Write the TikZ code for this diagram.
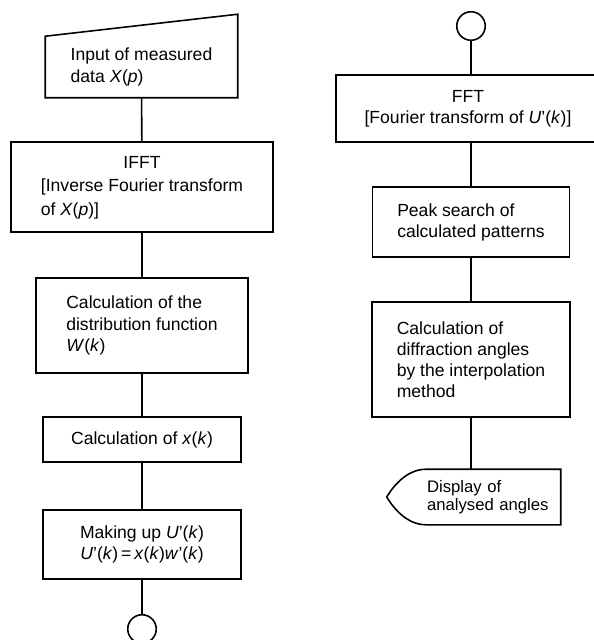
\documentclass[tikz,border=0pt]{standalone}
\usepackage{fontspec}
\setmainfont{Liberation Sans}
\usetikzlibrary{calc}

\begin{document}
\begin{tikzpicture}[
    x=0.02cm, y=-0.02cm,
    box/.style={draw, inner sep=0pt, align=left},
    plain/.style={inner sep=0pt, align=left},
    conn/.style={draw, circle, minimum size=0.57cm, inner sep=0pt},
    every node/.style={font=\fontsize{10}{12}\selectfont},
    line width=0.9pt
  ]
  \useasboundingbox (0,0) rectangle (593,640);

  % Left column
  \node[plain, minimum width=3.82cm, minimum height=1.2cm,
        font=\fontsize{10}{13}\selectfont] (input) at (141.5,67)
        {Input of measured\\data \textit{X}(\textit{p})};
  \draw (input.south west) -- (input.south east)
        -- ([yshift=0.44cm]input.north east) -- (input.north west) -- cycle;

  \node[box, minimum width=5.24cm, minimum height=1.8cm,
        font=\fontsize{10}{13.5}\selectfont] (ifft) at (142,187)
        {\begin{tabular}{@{}l@{}}\multicolumn{1}{@{}c@{}}{IFFT}\\
         {[}Inverse Fourier transform\\ of \textit{X}(\textit{p})]\end{tabular}};
  \node[box, minimum width=4.24cm, minimum height=1.9cm] (distr) at (142,325.5)
        {Calculation of the\\distribution function\\\textit{W}(\textit{k})};
  \node[box, minimum width=3.96cm, minimum height=0.9cm] (xk) at (142,439.5)
        {Calculation of \textit{x}(\textit{k})};
  \node[box, align=center, minimum width=3.96cm, minimum height=1.38cm] (makeu) at (142,544.5)
        {Making up \textit{U}'(\textit{k})\\
         \textit{U}'(\textit{k})\,=\,\textit{x}(\textit{k})\textit{w}'(\textit{k})};
  \node[conn] (outc) at (142,629) {};

  \draw (input) -- (ifft);
  \draw (ifft) -- (distr);
  \draw (distr) -- (xk);
  \draw (xk) -- (makeu);
  \draw (makeu) -- (outc);

  % Right column
  \node[conn] (inc) at (471,26) {};
  \node[box, align=center, minimum width=5.28cm, minimum height=1.34cm] (fft) at (468,108.5)
        {FFT\\{[}Fourier transform of \textit{U}'(\textit{k})]};
  \node[box, minimum width=3.94cm, minimum height=1.4cm] (peak) at (471,222)
        {Peak search of\\calculated patterns};
  \node[box, minimum width=3.96cm, minimum height=2.3cm] (diffr) at (471,359.5)
        {Calculation of\\diffraction angles\\by the interpolation\\method};
  \node[plain, text width=2.66cm, minimum height=1.08cm,
        font=\fontsize{9.5}{10.5}\selectfont] (disp) at (493.5,497)
        {Display of\\analysed angles};
  \coordinate (tip) at ([xshift=-0.79cm]disp.west);
  \draw (disp.north east) -- (disp.north west)
        .. controls ([xshift=-0.4cm]disp.north west) and ([xshift=0.12cm,yshift=0.2cm]tip) .. (tip)
        .. controls ([xshift=0.12cm,yshift=-0.2cm]tip) and ([xshift=-0.4cm]disp.south west) .. (disp.south west)
        -- (disp.south east) -- cycle;

  \draw (inc) -- (inc |- fft.north);
  \draw (peak.north) -- (peak.north |- fft.south);
  \draw (peak) -- (diffr);
  \draw (diffr.south) -- (diffr.south |- disp.north);
\end{tikzpicture}
\end{document}
